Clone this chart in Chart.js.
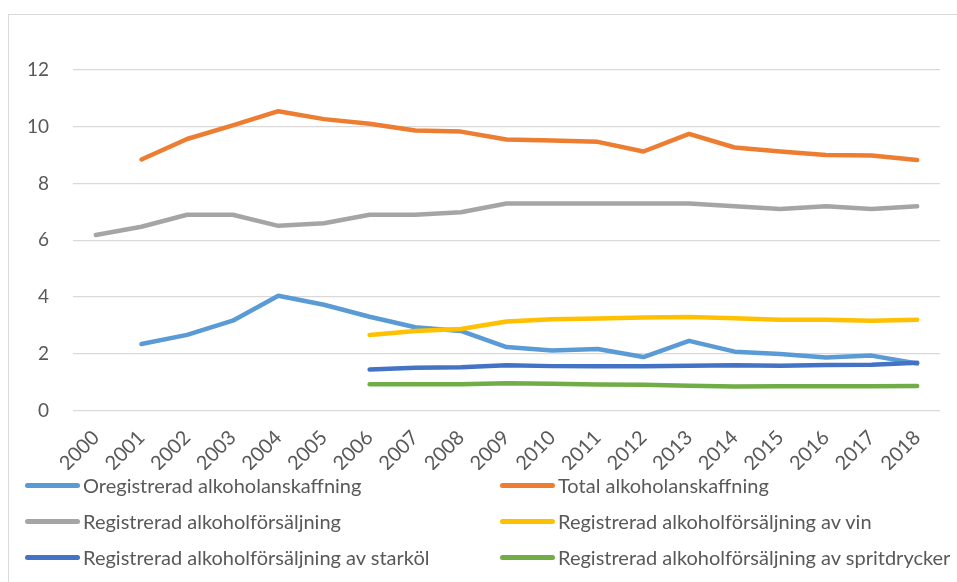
<!DOCTYPE html>
<html>
<head>
<meta charset="utf-8">
<script src="https://cdn.jsdelivr.net/npm/chart.js@4"></script>
<style>
  body { margin: 0; background: #fff; }
  #wrap { position: relative; width: 957px; height: 582px; overflow: hidden; }
  #frame { position: absolute; left: 8px; top: 14px; width: 1000px; height: 600px; border: 1px solid #d9d9d9; }
  #lineChart { position: absolute; left: 0; top: 0; }
  #legend { position: absolute; left: 0; top: 0; width: 957px; height: 582px; font-family: Lato, sans-serif; font-size: 20px; color: #595959; }
  .item { position: absolute; height: 24px; line-height: 24px; white-space: nowrap; }
  .item i { position: absolute; left: 0; top: 10px; width: 55px; height: 5px; border-radius: 3px; }
  .item span { position: absolute; left: 58px; top: 0; }
</style>
</head>
<body>
<div id="wrap">
  <div id="frame"></div>
  <canvas id="lineChart" width="957" height="582"></canvas>
  <div id="legend"></div>
</div>
<script>
var years = ['2000', '2001', '2002', '2003', '2004', '2005', '2006', '2007', '2008', '2009',
  '2010', '2011', '2012', '2013', '2014', '2015', '2016', '2017', '2018'];
var yTicks = [0, 2, 4, 6, 8, 10, 12];

var seriesNames = [
  'Oregistrerad alkoholanskaffning',
  'Total alkoholanskaffning',
  'Registrerad alkoholförsäljning',
  'Registrerad alkoholförsäljning av vin',
  'Registrerad alkoholförsäljning av starköl',
  'Registrerad alkoholförsäljning av spritdrycker'
];
var seriesColors = ['#5b9bd5', '#ed7d31', '#a5a5a5', '#ffc000', '#4472c4', '#70ad47'];

var oregistrerad = [null, 2.35, 2.67, 3.17, 4.05, 3.73, 3.31, 2.94, 2.81, 2.24, 2.12, 2.17, 1.89, 2.46, 2.08, 2.0, 1.87, 1.94, 1.66];
var total = [null, 8.85, 9.57, 10.05, 10.55, 10.27, 10.11, 9.87, 9.83, 9.55, 9.52, 9.47, 9.13, 9.75, 9.27, 9.13, 9.01, 8.99, 8.83];
var registrerad = [6.19, 6.48, 6.9, 6.9, 6.51, 6.6, 6.9, 6.9, 6.99, 7.3, 7.3, 7.3, 7.3, 7.3, 7.2, 7.1, 7.2, 7.1, 7.2];
var vin = [null, null, null, null, null, null, 2.67, 2.81, 2.88, 3.14, 3.22, 3.25, 3.28, 3.3, 3.26, 3.2, 3.2, 3.17, 3.2];
var starkol = [null, null, null, null, null, null, 1.45, 1.51, 1.53, 1.6, 1.57, 1.57, 1.57, 1.58, 1.6, 1.58, 1.61, 1.62, 1.69];
var sprit = [null, null, null, null, null, null, 0.93, 0.93, 0.93, 0.97, 0.95, 0.92, 0.91, 0.88, 0.85, 0.86, 0.86, 0.86, 0.87];

var seriesData = [oregistrerad, total, registrerad, vin, starkol, sprit];

var tickFont = { family: 'Lato', size: 19 };

var datasets = seriesData.map(function(values, i) {
  return {
    label: seriesNames[i],
    data: values,
    borderColor: seriesColors[i],
    backgroundColor: seriesColors[i],
    borderWidth: 4.5,
    borderCapStyle: 'round',
    borderJoinStyle: 'round',
    pointRadius: 0,
    pointHoverRadius: 0,
    tension: 0,
    order: seriesData.length - i // first series at the bottom
  };
});

var ctx = document.getElementById('lineChart').getContext('2d');
new Chart(ctx, {
  type: 'line',
  data: { labels: years, datasets: datasets },
  options: {
    responsive: false,
    animation: false,
    layout: { padding: { top: 70, left: 0, right: 17, bottom: 112 } },
    plugins: { legend: { display: false }, tooltip: { enabled: false } },
    scales: {
      x: {
        offset: true,
        grid: { display: false, drawTicks: false },
        border: { display: false },
        ticks: { color: '#595959', font: { family: 'Lato', size: 20 }, minRotation: 45, maxRotation: 45, padding: 15, autoSkip: false },
        afterFit: function(scale) { scale.height = 59.3; }
      },
      y: {
        min: 0,
        max: 12,
        afterBuildTicks: function(scale) {
          scale.ticks = yTicks.map(function(v) { return { value: v }; });
        },
        grid: { color: '#d9d9d9', lineWidth: 1.3, drawTicks: false },
        border: { display: false },
        ticks: { color: '#595959', font: tickFont, padding: 24 },
        afterFit: function(scale) { scale.width = 73; }
      }
    }
  }
});

// two-column legend under the plot
var legend = document.getElementById('legend');
seriesNames.forEach(function(name, i) {
  var item = document.createElement('div');
  item.className = 'item';
  item.style.left = (i % 2 === 0 ? 25 : 500) + 'px';
  item.style.top = (473 + Math.floor(i / 2) * 36) + 'px';
  item.innerHTML = '<i style="background:' + seriesColors[i] + '"></i><span>' + name + '</span>';
  legend.appendChild(item);
});
</script>
</body>
</html>
